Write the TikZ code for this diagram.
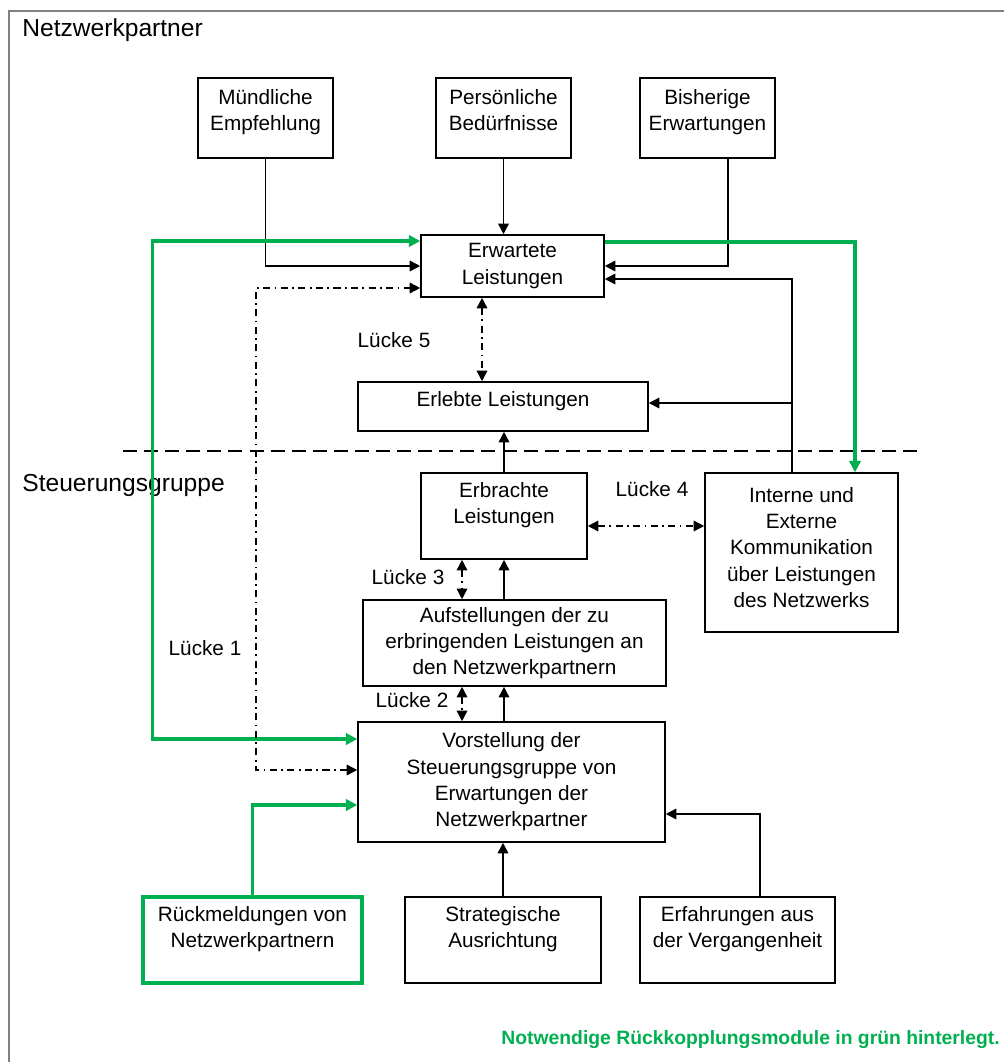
\documentclass[tikz,border=0pt]{standalone}
\usepackage{fontspec}
\setmainfont{Liberation Sans}
\usetikzlibrary{arrows.meta, calc}
\definecolor{fbgreen}{HTML}{00B050}
\definecolor{framegray}{HTML}{808080}
\begin{document}
\begin{tikzpicture}[x=0.02cm, y=-0.02cm,
          box/.style={draw=black, line width=0.9pt, fill=white, font=\fontsize{11.8}{15}\selectfont, align=center, inner sep=2pt},
          gbox/.style={box, draw=fbgreen, line width=1.8pt},
          lbl/.style={font=\fontsize{11.8}{15}\selectfont, inner sep=0pt},
          arr/.style={-{Triangle[length=6pt,width=6pt]}, line width=0.85pt},
          garr/.style={-{Triangle[length=6.5pt,width=6.5pt]}, line width=1.8pt, color=fbgreen},
          gboth/.style={{Triangle[length=6.5pt,width=6.5pt]}-{Triangle[length=6.5pt,width=6.5pt]}, line width=1.8pt, color=fbgreen},
          gap/.style={{Triangle[length=6pt,width=6pt]}-{Triangle[length=6pt,width=6pt]}, line width=0.85pt, dash pattern=on 4pt off 2.5pt on 1pt off 2.5pt}]
        \useasboundingbox (0,0) rectangle (1004,1062);
        \draw[framegray, line width=0.8pt] (9,1062) -- (9,11) -- (1004,11);
        \draw[line width=0.8pt, dash pattern=on 8pt off 4pt] (123,451) -- (920,451);
        \node[lbl, anchor=west, font=\fontsize{14}{15}\selectfont] (tnw) at (22,30) {Netzwerkpartner};
        \node[lbl, anchor=west, font=\fontsize{14}{15}\selectfont] (tsg) at (22,485) {Steuerungsgruppe};
        % Netzwerkpartner
        \node[box, minimum width=2.7cm, minimum height=1.6cm] (me) at (265.5,118) {Mündliche\\Empfehlung\\[-6pt]~};
        \node[box, minimum width=2.7cm, minimum height=1.6cm] (pb) at (503.5,118) {Persönliche\\Bedürfnisse\\[-6pt]~};
        \node[box, minimum width=2.7cm, minimum height=1.6cm] (be) at (707.5,118) {Bisherige\\Erwartungen\\[-6pt]~};
        \node[box, minimum width=3.66cm, minimum height=1.24cm] (ew) at (512.5,266) {Erwartete\\Leistungen};
        \node[box, minimum width=5.8cm, minimum height=0.98cm] (el) at (503,406.5) {Erlebte Leistungen\\[-7pt]~};
        % Steuerungsgruppe
        \node[box, minimum width=3.32cm, minimum height=1.72cm] (eb) at (504,516) {Erbrachte\\Leistungen\\~};
        \node[box, minimum width=3.86cm, minimum height=3.18cm] (ike) at (801.5,552.5) {Interne und\\Externe\\Kommunikation\\über Leistungen\\des Netzwerks\\[-9pt]~};
        \node[box, minimum width=6.06cm, minimum height=1.72cm] (au) at (514.5,643) {Aufstellungen der zu\\erbringenden Leistungen an\\den Netzwerkpartnern};
        \node[box, minimum width=6.14cm, minimum height=2.4cm] (vs) at (511.5,782) {Vorstellung der\\Steuerungsgruppe von\\Erwartungen der\\Netzwerkpartner};
        \node[gbox, minimum width=4.38cm, minimum height=1.72cm] (rm) at (252.5,940) {Rückmeldungen von\\Netzwerkpartnern\\~};
        \node[box, minimum width=3.92cm, minimum height=1.72cm] (sa) at (503,940) {Strategische\\Ausrichtung\\~};
        \node[box, minimum width=3.9cm, minimum height=1.72cm] (ev) at (737.5,940) {Erfahrungen aus\\der Vergangenheit\\~};
        \coordinate (kj) at (792,403);
        % Pfeile
        \draw[arr] (me.south) |- (ew.west);
        \draw[arr] (pb.south) -- (pb.south |- ew.north);
        \draw[arr] ([xshift=0.41cm]be.south) |- (ew.east);
        \draw[arr] ([xshift=-0.19cm]ike.north) |- ([yshift=-0.26cm]ew.east);
        \draw[arr] (kj) -- (kj -| el.east);
        \draw[arr] (eb.north) -- (eb.north |- el.south);
        \draw[arr] (eb.south |- au.north) -- (eb.south);
        \draw[arr] (eb.south |- vs.north) -- (eb.south |- au.south);
        \draw[arr] (sa.north) -- (sa.north |- vs.south);
        \draw[arr] ([xshift=0.45cm]ev.north) |- ([yshift=-0.64cm]vs.east);
        \draw[gboth] ([yshift=0.86cm]vs.west) -- ++(-205,0) |- ([yshift=0.5cm]ew.west);
        \draw[garr] ([yshift=0.48cm]ew.east) -| ([xshift=1.07cm]ike.north);
        \draw[garr] (rm.north) |- ([yshift=-0.46cm]vs.west);
        % Luecken
        \draw[gap] ([yshift=0.24cm]vs.west) -- ++(-101,0) |- ([yshift=-0.44cm]ew.west);
        \draw[gap] ([xshift=-0.61cm]ew.south) -- ([xshift=-0.61cm]ew.south |- el.north);
        \draw[gap] ([yshift=-0.2cm]eb.east) -- ([yshift=-0.2cm]eb.east -| ike.west);
        \draw[gap] ([xshift=-0.84cm]eb.south) -- ([xshift=-0.84cm]eb.south |- au.north);
        \draw[gap] ([xshift=-0.84cm]eb.south |- au.south) -- ([xshift=-0.84cm]eb.south |- vs.north);
        \node[lbl] (l5) at (394,340) {Lücke 5};
        \node[lbl] (l4) at (652,489) {Lücke 4};
        \node[lbl] (l3) at (408,577) {Lücke 3};
        \node[lbl] (l2) at (412,700) {Lücke 2};
        \node[lbl] (l1) at (205,648) {Lücke 1};
        \node[lbl, anchor=east, text=fbgreen, font=\bfseries\fontsize{11}{15}\selectfont] (note) at (1000,1040) {Notwendige Rückkopplungsmodule in grün hinterlegt.};
      \end{tikzpicture}
\end{document}
